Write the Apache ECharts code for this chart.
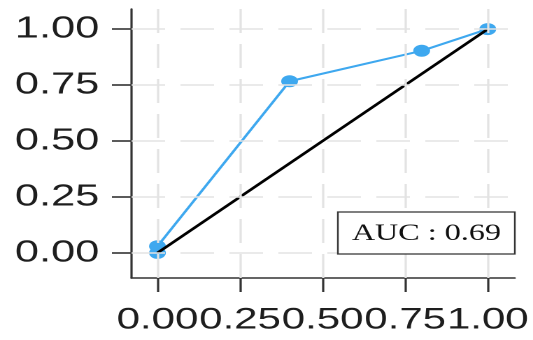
<!DOCTYPE html>
<html>
<head>
<meta charset="utf-8">
<script src="https://cdn.jsdelivr.net/npm/echarts@6/dist/echarts.min.js"></script>
<style>
html,body{margin:0;padding:0;background:#fff;overflow:hidden;}
#wrap{width:533px;height:340px;overflow:hidden;}
#chart{width:381px;height:340px;transform:scaleX(1.399);transform-origin:0 0;}
</style>
</head>
<body>
<div id="wrap"><div id="chart"></div></div>
<script>
// ROC curve points (false positive rate, true positive rate)
const fpr = [0, 0, 0.40, 0.80, 1.00];
const tpr = [0, 0.03, 0.767, 0.903, 1.00];
// reference diagonal
const diagX = [0, 1];
const diagY = [0, 1];
// tick values
const xTicks = [0, 0.25, 0.5, 0.75, 1.0];
const yTicks = [0, 0.25, 0.5, 0.75, 1.0];
const aucText = 'AUC : 0.69';

const chart = echarts.init(document.getElementById('chart'), null, {renderer: 'canvas', devicePixelRatio: 2});

const gridStyle = {color: '#e3e3e3', width: 1.6, type: [24, 11]};
const axisLabelStyle = {
  fontFamily: 'Liberation Sans, Arial, sans-serif',
  color: '#1e1e1e',
  showMinLabel: true,
  showMaxLabel: true,
  hideOverlap: false,
  interval: 0,
  formatter: v => v.toFixed(2)
};

const option = {
  animation: false,
  backgroundColor: '#fff',
  grid: {left: 94, right: 13, top: 9, bottom: 62, containLabel: false},
  xAxis: {
    type: 'value', min: -0.0786, max: 1.082,
    axisLine: {show: true, onZero: false, lineStyle: {color: '#333', width: 1.6}},
    axisTick: {show: true, length: 14, interval: 0, customValues: xTicks, lineStyle: {color: '#333', width: 1.6}},
    axisLabel: Object.assign({customValues: xTicks, margin: 27, fontSize: 30}, axisLabelStyle),
    splitLine: {show: false}
  },
  yAxis: {
    type: 'value', min: -0.112, max: 1.0897,
    axisLine: {show: true, onZero: false, lineStyle: {color: '#333', width: 1.6}},
    axisTick: {show: true, length: 14, interval: 0, customValues: yTicks, lineStyle: {color: '#333', width: 1.6}},
    axisLabel: Object.assign({customValues: yTicks, margin: 23, fontSize: 31}, axisLabelStyle),
    splitLine: {show: false}
  },
  series: [
    {
      type: 'line',
      data: [],
      silent: true,
      markLine: {
        silent: true,
        symbol: 'none',
        label: {show: false},
        lineStyle: gridStyle,
        animation: false,
        data: xTicks.map(v => ({xAxis: v})).concat(yTicks.map(v => ({yAxis: v})))
      }
    },
    {
      type: 'line',
      data: diagX.map((x, i) => [x, diagY[i]]),
      showSymbol: false,
      lineStyle: {color: '#000', width: 2.4},
      z: 3
    },
    {
      type: 'line',
      data: fpr.map((x, i) => [x, tpr[i]]),
      symbol: 'circle',
      symbolSize: 12,
      itemStyle: {color: '#3ea8ef'},
      lineStyle: {color: '#3ea8ef', width: 2},
      z: 2
    }
  ],
  graphic: [
    {
      type: 'rect',
      shape: {x: 241.5, y: 212, width: 126.5, height: 42},
      style: {fill: '#fff', stroke: '#333', lineWidth: 1.2},
      z: 100
    },
    {
      type: 'text',
      x: 304.8, y: 234,
      style: {
        text: aucText,
        fontFamily: 'Liberation Serif, Times New Roman, serif',
        fontSize: 23,
        fill: '#111',
        align: 'center',
        verticalAlign: 'middle'
      },
      z: 101
    }
  ]
};
chart.setOption(option);
</script>
</body>
</html>
